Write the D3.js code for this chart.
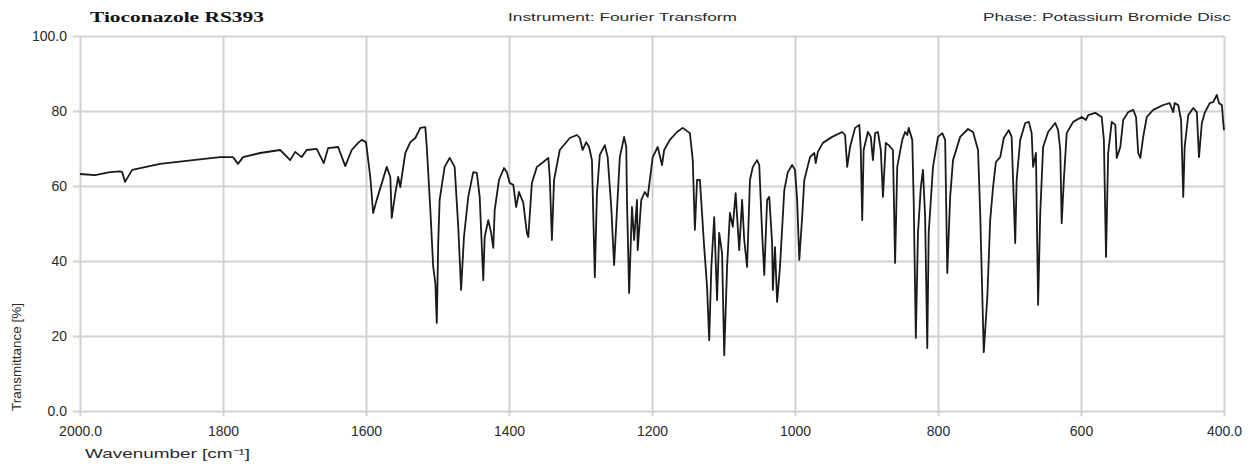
<!DOCTYPE html>
<html>
<head>
<meta charset="utf-8">
<script src="https://cdn.jsdelivr.net/npm/d3@7"></script>
<style>
  body { margin: 0; background: #fff; }
  svg { display: block; }
</style>
</head>
<body>
<svg id="chart" width="1249" height="464"></svg>
<script>
// spectrum (wavenumber in cm-1, transmittance in %)
const wavenumbers = [
  2000, 1979, 1958, 1944, 1941, 1937, 1927, 1888, 1842, 1804, 1786, 1779, 1772, 1748, 1720,
  1706, 1699, 1690, 1683, 1669, 1659, 1653, 1639, 1629, 1620, 1611, 1606, 1600, 1594, 1590,
  1585, 1571, 1566, 1564, 1559, 1555, 1552, 1550, 1545, 1538, 1531, 1524, 1517, 1515, 1510,
  1506, 1503, 1501, 1499, 1497, 1490, 1483, 1476, 1471, 1467, 1463, 1457, 1450, 1445, 1441,
  1436, 1434, 1429, 1425, 1422, 1420, 1414, 1407, 1403, 1399, 1394, 1390, 1386, 1380, 1375,
  1373, 1368, 1361, 1352, 1345, 1343, 1340, 1337, 1329, 1315, 1305, 1301, 1297, 1292, 1288,
  1284, 1280, 1277, 1273, 1266, 1262, 1257, 1253, 1249, 1245, 1239, 1236, 1235, 1232, 1228,
  1225, 1221, 1220, 1215, 1210, 1206, 1199, 1192, 1186, 1183, 1175, 1165, 1157, 1147, 1143,
  1140, 1137, 1133, 1127, 1123, 1120, 1117, 1113, 1109, 1106, 1102, 1099, 1095, 1091, 1087,
  1083, 1078, 1074, 1071, 1067, 1063, 1059, 1053, 1050, 1046, 1043, 1039, 1036, 1032, 1031,
  1028, 1025, 1021, 1015, 1010, 1004, 1000, 997, 994, 990, 987, 979, 973, 971, 968,
  961, 948, 934, 930, 927, 923, 916, 910, 908, 906, 904, 898, 894, 891, 888,
  884, 880, 877, 873, 869, 863, 860, 857, 850, 846, 843, 841, 836, 834, 831,
  828, 824, 821, 818, 815, 813, 807, 800, 794, 790, 787, 783, 779, 769, 758,
  751, 744, 741, 736, 731, 727, 723, 719, 713, 708, 701, 697, 695, 692, 690,
  685, 678, 673, 669, 667, 663, 660, 657, 653, 646, 636, 632, 629, 627, 624,
  620, 611, 599, 593, 590, 580, 571, 568, 565, 562, 557, 552, 550, 545, 541,
  534, 527, 523, 520, 517, 513, 508, 499, 485, 476, 471, 469, 464, 460, 457,
  455, 450, 443, 438, 435, 431, 427, 420, 415, 410, 407, 403, 401, 400
];
const transmittance = [
  63.2, 62.9, 63.7, 63.9, 63.7, 61.1, 64.3, 65.9, 66.9, 67.7, 67.7, 65.9, 67.7, 68.8, 69.6,
  66.9, 69.1, 67.7, 69.6, 69.9, 66.1, 70.1, 70.4, 65.3, 69.6, 71.5, 72.3, 71.7, 62.4, 52.8,
  56.3, 65.1, 62.4, 51.5, 58.1, 62.4, 59.7, 62.4, 68.8, 71.7, 72.8, 75.5, 75.7, 70.4, 53.6,
  38.4, 34.1, 23.5, 44.8, 56.3, 65.1, 67.5, 65.1, 49.1, 32.3, 46.4, 57.1, 63.7, 63.5, 57.1,
  34.9, 46.4, 50.9, 47.5, 43.5, 53.6, 61.6, 64.8, 63.7, 60.8, 60.3, 54.4, 58.4, 55.5, 47.5,
  46.4, 60.8, 65.1, 66.4, 67.5, 62.4, 45.6, 61.6, 69.6, 72.8, 73.6, 72.8, 69.6, 71.7, 70.4,
  66.9, 35.7, 58.1, 68.3, 70.9, 67.7, 54.4, 38.9, 53.6, 67.7, 73.1, 70.4, 56.3, 31.5, 54.4,
  45.6, 56.3, 42.9, 56.3, 58.4, 57.1, 67.7, 70.4, 65.6, 69.6, 72.3, 74.4, 75.5, 74.1, 66.9,
  48.3, 61.6, 61.6, 43.7, 33.1, 18.9, 38.4, 51.7, 29.6, 47.5, 42.1, 14.9, 38.4, 52.8, 49.1,
  58.1, 42.9, 56.3, 45.6, 38.4, 61.6, 65.1, 66.9, 65.6, 47.5, 36.3, 56.3, 57.1, 44.8, 32.3,
  43.7, 29.1, 38.4, 58.9, 63.7, 65.6, 64.3, 56.3, 40.3, 51.7, 61.6, 67.7, 68.8, 66.1, 69.1,
  71.5, 73.1, 74.4, 73.6, 65.1, 70.4, 75.5, 76.3, 69.6, 50.9, 69.6, 74.4, 73.1, 66.9, 74.1,
  74.4, 69.6, 57.1, 71.5, 70.9, 69.6, 39.5, 65.1, 72.3, 74.4, 73.6, 75.5, 72.3, 56.3, 19.5,
  47.5, 59.7, 64.3, 51.7, 16.8, 47.5, 65.1, 73.1, 74.1, 72.3, 36.8, 57.1, 66.9, 73.1, 75.2,
  74.4, 69.6, 52.8, 15.7, 30.4, 50.9, 59.7, 66.4, 67.7, 72.8, 74.9, 73.1, 61.6, 44.8, 61.6,
  72.3, 76.8, 77.1, 74.1, 65.1, 68.8, 28.3, 52.8, 70.4, 74.4, 76.8, 74.9, 69.6, 50.1, 61.6,
  74.1, 77.1, 78.4, 77.6, 78.9, 79.5, 78.4, 72.3, 41.1, 68.8, 77.1, 76.3, 67.5, 70.4, 77.6,
  79.7, 80.3, 78.4, 68.8, 67.5, 73.1, 78.4, 80.3, 81.6, 82.1, 79.7, 82.1, 81.6, 77.6, 57.1,
  70.4, 78.9, 80.8, 79.7, 67.7, 76.8, 79.5, 82.1, 82.4, 84.3, 82.1, 81.6, 76.8, 74.9
];

const xTickValues = [2000, 1800, 1600, 1400, 1200, 1000, 800, 600, 400];
const xTickLabels = ["2000.0", "1800", "1600", "1400", "1200", "1000", "800", "600", "400.0"];
const yTickValues = [0, 20, 40, 60, 80, 100];
const yTickLabels = ["0.0", "20", "40", "60", "80", "100.0"];

const titleText = "Tioconazole RS393";
const instrumentText = "Instrument:  Fourier Transform";
const phaseText = "Phase:  Potassium Bromide Disc";
const xLabel = "Wavenumber [cm\u207B\u00B9]";
const yLabel = "Transmittance [%]";

const margin = { top: 36, right: 25, bottom: 53, left: 80 };
const width = 1249 - margin.left - margin.right;
const height = 464 - margin.top - margin.bottom;

const svg = d3.select("#chart");
const g = svg.append("g")
  .attr("transform", "translate(" + margin.left + "," + margin.top + ")");

const xScale = d3.scaleLinear().domain([2000, 400]).range([0, width]);
const yScale = d3.scaleLinear().domain([0, 100]).range([height, 0]);

const gridColor = "#d2d2d2";
const labelFont = "Liberation Sans, Arial, sans-serif";

// horizontal grid + y labels
const yAxis = g.append("g")
  .attr("class", "y-axis")
  .attr("transform", "translate(-7, 0)")
  .call(d3.axisLeft(yScale)
    .tickValues(yTickValues)
    .tickSizeInner(-(width + 7))
    .tickSizeOuter(0)
    .tickPadding(6)
    .tickFormat((d, i) => yTickLabels[i]));
yAxis.select(".domain").remove();
yAxis.selectAll(".tick line").attr("stroke", gridColor).attr("stroke-width", 2);
yAxis.selectAll(".tick text")
  .attr("fill", "#2a2a2a")
  .style("font-family", labelFont)
  .style("font-size", "14px");

// vertical grid + x labels
const xAxis = g.append("g")
  .attr("class", "x-axis")
  .attr("transform", "translate(0, " + (height + 5) + ")")
  .call(d3.axisBottom(xScale)
    .tickValues(xTickValues)
    .tickSizeInner(-(height + 5))
    .tickSizeOuter(0)
    .tickPadding(10)
    .tickFormat((d, i) => xTickLabels[i]));
xAxis.select(".domain").remove();
xAxis.selectAll(".tick line").attr("stroke", gridColor).attr("stroke-width", 2);
xAxis.selectAll(".tick text")
  .attr("fill", "#2a2a2a")
  .style("font-family", labelFont)
  .style("font-size", "14px");

// spectrum
const points = wavenumbers.map((w, i) => ({ wn: w, t: transmittance[i] }));
const line = d3.line()
  .x((d) => xScale(d.wn))
  .y((d) => yScale(d.t));

g.append("path")
  .datum(points)
  .attr("fill", "none")
  .attr("stroke", "#1a1a1a")
  .attr("stroke-width", 1.8)
  .attr("stroke-linejoin", "round")
  .attr("d", line);

// header texts
svg.append("text")
  .attr("x", 90)
  .attr("y", 22)
  .attr("textLength", 174)
  .attr("lengthAdjust", "spacingAndGlyphs")
  .style("font-family", "Liberation Serif, Times New Roman, serif")
  .style("font-weight", "bold")
  .style("font-size", "14px")
  .attr("fill", "#111")
  .text(titleText);

svg.append("text")
  .attr("x", 508)
  .attr("y", 21)
  .attr("textLength", 229)
  .attr("lengthAdjust", "spacingAndGlyphs")
  .style("font-family", labelFont)
  .style("font-size", "11px")
  .attr("fill", "#2a2a2a")
  .text(instrumentText);

svg.append("text")
  .attr("x", 983)
  .attr("y", 21)
  .attr("textLength", 248)
  .attr("lengthAdjust", "spacingAndGlyphs")
  .style("font-family", labelFont)
  .style("font-size", "11px")
  .attr("fill", "#2a2a2a")
  .text(phaseText);

// axis titles
svg.append("text")
  .attr("x", 85)
  .attr("y", 458)
  .attr("textLength", 165)
  .attr("lengthAdjust", "spacingAndGlyphs")
  .style("font-family", labelFont)
  .style("font-size", "13px")
  .attr("fill", "#2a2a2a")
  .text(xLabel);

svg.append("text")
  .attr("transform", "translate(21, 411) rotate(-90)")
  .attr("textLength", 108)
  .attr("lengthAdjust", "spacingAndGlyphs")
  .style("font-family", labelFont)
  .style("font-size", "13px")
  .attr("fill", "#2a2a2a")
  .text(yLabel);
</script>
</body>
</html>
